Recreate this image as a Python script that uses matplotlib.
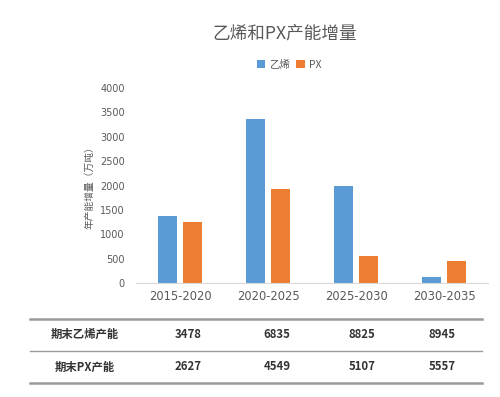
import matplotlib
matplotlib.use('Agg')
import matplotlib.pyplot as plt
import numpy as np
from matplotlib.lines import Line2D

plt.rcParams['font.family'] = ['Noto Sans CJK SC', 'DejaVu Sans']

periods = ['2015-2020', '2020-2025', '2025-2030', '2030-2035']
ethylene_add = [1370, 3357, 1990, 120]   # 乙烯
px_add = [1250, 1922, 558, 450]          # PX
row_labels = ['期末乙烯产能', '期末PX产能']
ethylene_cap = [3478, 6835, 8825, 8945]
px_cap = [2627, 4549, 5107, 5557]

blue = '#5B9BD5'
orange = '#ED7D31'
txt = '#595959'

fig = plt.figure(figsize=(5, 3.97), dpi=100)
ax = fig.add_axes([0.272, 0.287, 0.704, 0.491])

x = np.arange(len(periods))
w = 0.227
ax.bar(x - 0.142, ethylene_add, w, color=blue, label='乙烯')
ax.bar(x + 0.142, px_add, w, color=orange, label='PX')

ax.set_xlim(-0.5, 3.5)
ax.set_ylim(0, 4000)
ax.set_yticks(range(0, 4001, 500))
ax.set_xticks(x)
ax.set_xticklabels(periods)
ax.tick_params(axis='both', length=0, colors=txt)
ax.tick_params(axis='y', pad=8)
ax.tick_params(axis='x', pad=5)
for t in ax.get_yticklabels():
    t.set_fontfamily('DejaVu Sans')
    t.set_fontsize(7)
for t in ax.get_xticklabels():
    t.set_fontfamily('DejaVu Sans')
    t.set_fontsize(8.3)
for s in ['top', 'right', 'left']:
    ax.spines[s].set_visible(False)
ax.spines['bottom'].set_color('#D9D9D9')
ax.set_ylabel('年产能增量（万吨）', fontsize=7, color=txt, labelpad=4)

fig.text(0.57, 0.915, '乙烯和PX产能增量', ha='center', va='center', fontsize=12.7, color=txt)
ax.legend(loc='center', bbox_to_anchor=(0.435, 1.12), ncol=2, frameon=False,
          fontsize=7.5, handlelength=0.8, handleheight=0.8, handletextpad=0.4,
          columnspacing=0.6, labelcolor=txt)

# table below chart
line_ys = [1 - 319 / 397, 1 - 351 / 397, 1 - 383 / 397]
lws = [1.8, 1.0, 1.8]
for ly, lw in zip(line_ys, lws):
    fig.add_artist(Line2D([30 / 500, 482 / 500], [ly, ly], color='#9A9A9A', lw=lw))

col_x = [188 / 500, 277 / 500, 362 / 500, 442 / 500]
row_y = [1 - 334 / 397, 1 - 367 / 397]
for ry, lab, vals in zip(row_y, row_labels, [ethylene_cap, px_cap]):
    fig.text(85 / 500, ry, lab, ha='center', va='center', fontsize=8.2,
             fontweight='bold', color='#333333')
    for cx, v in zip(col_x, vals):
        fig.text(cx, ry, str(v), ha='center', va='center', fontsize=8.2,
                 fontweight='bold', color='#333333')

fig.savefig('out.png', dpi=100)
